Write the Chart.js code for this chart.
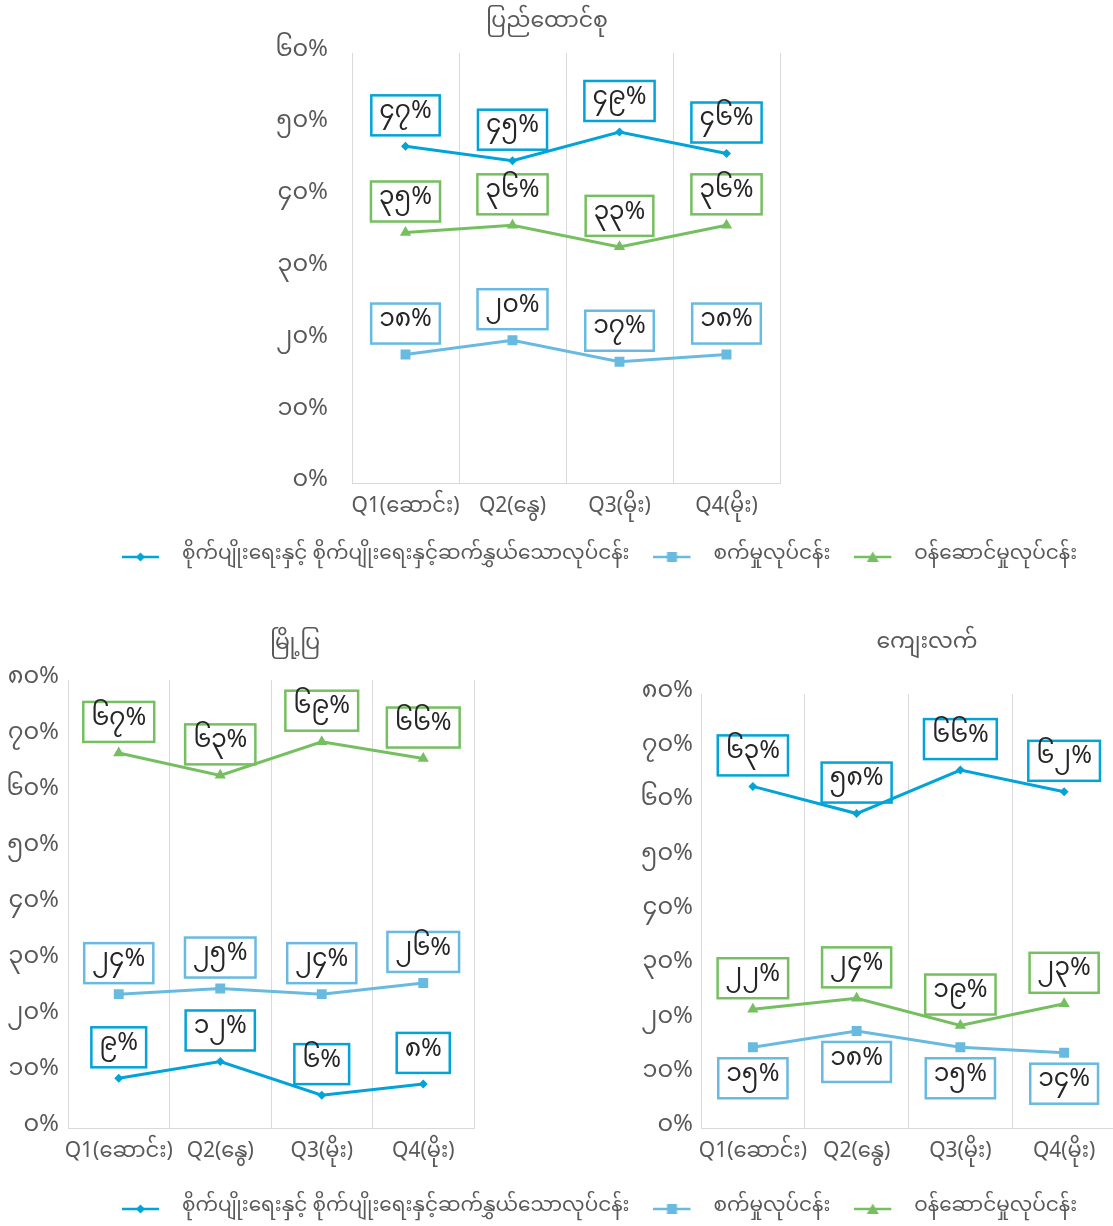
<!DOCTYPE html>
<html>
<head>
<meta charset="utf-8">
<script src="https://cdn.jsdelivr.net/npm/chart.js@4.4.0/dist/chart.umd.min.js"></script>
<style>
    html, body { margin: 0; padding: 0; background: #fff; overflow: hidden; }
    body { width: 1113px; height: 1226px; position: relative; }
    .box { position: absolute; }
</style>
</head>
<body>
<div class="box" style="left:0;top:0;width:1094px;height:538px"><canvas id="c-union"></canvas></div>
<div class="box" style="left:0;top:523px;width:1113px;height:200px"><canvas id="legend-top"></canvas></div>
<div class="box" style="left:0;top:615px;width:590px;height:568px"><canvas id="c-urban"></canvas></div>
<div class="box" style="left:630px;top:615px;width:594px;height:568px"><canvas id="c-rural"></canvas></div>
<div class="box" style="left:0;top:1175px;width:1113px;height:200px"><canvas id="legend-bottom"></canvas></div>
<script>
const quarters = ['Q1(ဆောင်း)', 'Q2(နွေ)', 'Q3(မိုး)', 'Q4(မိုး)'];
const seriesNames = ['စိုက်ပျိုးရေးနှင့် စိုက်ပျိုးရေးနှင့်ဆက်နွှယ်သောလုပ်ငန်း', 'စက်မှုလုပ်ငန်း', 'ဝန်ဆောင်မှုလုပ်ငန်း'];

// ပြည်ထောင်စု
const unionAgri = [47, 45, 49, 46];
const unionIndustry = [18, 20, 17, 18];
const unionServices = [35, 36, 33, 36];

// မြို့ပြ
const urbanAgri = [9, 12, 6, 8];
const urbanIndustry = [24, 25, 24, 26];
const urbanServices = [67, 63, 69, 66];

// ကျေးလက်
const ruralAgri = [63, 58, 66, 62];
const ruralIndustry = [15, 18, 15, 14];
const ruralServices = [22, 24, 19, 23];

const colors = ['#02a3d8', '#69bae0', '#75bf60'];
const shapes = ['rectRot', 'rect', 'triangle'];
const radii = [4.5, 7, 6.5];
const widths = [3, 3, 3];
const FONT = "'Noto Sans Myanmar', 'Myanmar Text', Padauk, 'Noto Sans', sans-serif";
const textGray = '#595959';
const gridGray = '#d9d9d9';

const mmDigits = '၀၁၂၃၄၅၆၇၈၉';
const toMM = n => String(n).replace(/\d/g, d => mmDigits[d]);

// boxed value labels above (or below) each point
const boxLabels = {
    id: 'boxLabels',
    afterDatasetsDraw(chart) {
        const ctx = chart.ctx;
        chart.data.datasets.forEach((ds, i) => {
            const meta = chart.getDatasetMeta(i);
            meta.data.forEach((pt, j) => {
                const text = toMM(ds.data[j]) + '%';
                ctx.save();
                ctx.font = '25px ' + FONT;
                const w = ctx.measureText(text).width + 16;
                const h = 40;
                const cy = ds.labelBelow ? pt.y + 31 : pt.y - 31;
                ctx.strokeStyle = ds.borderColor;
                ctx.lineWidth = 2.5;
                ctx.strokeRect(pt.x - w / 2, cy - h / 2, w, h);
                ctx.fillStyle = '#262626';
                ctx.textAlign = 'center';
                ctx.textBaseline = 'middle';
                ctx.fillText(text, pt.x, cy);
                ctx.restore();
            });
        });
    }
};

function makeDatasets(values, belowFlags) {
    return values.map((v, i) => ({
        label: seriesNames[i],
        data: v,
        borderColor: colors[i],
        backgroundColor: colors[i],
        borderWidth: widths[i],
        pointStyle: shapes[i],
        pointRadius: radii[i],
        pointBorderWidth: 0,
        tension: 0,
        labelBelow: belowFlags ? belowFlags[i] : false
    }));
}

function panel(id, title, values, opt) {
    return new Chart(document.getElementById(id), {
        type: 'line',
        data: { labels: quarters, datasets: makeDatasets(values, opt.below) },
        options: {
            responsive: true,
            maintainAspectRatio: false,
            animation: false,
            layout: { padding: { bottom: 3 } },
            scales: {
                x: {
                    offset: true,
                    grid: { offset: true, color: gridGray, drawTicks: false },
                    border: { color: gridGray },
                    ticks: {
                        color: textGray,
                        font: { family: FONT, size: 21 },
                        padding: 13,
                        autoSkip: false,
                        maxRotation: 0,
                        minRotation: 0
                    }
                },
                y: {
                    min: 0,
                    max: opt.max,
                    grid: { display: false },
                    border: { color: gridGray },
                    ticks: {
                        stepSize: 10,
                        color: textGray,
                        font: { family: FONT, size: 24 },
                        padding: opt.tickPad,
                        callback: v => toMM(v) + '%'
                    },
                    afterFit: s => { s.width = opt.left; }
                },
                y2: {
                    position: 'right',
                    grid: { display: false },
                    border: { display: false },
                    ticks: { display: false },
                    afterFit: s => { s.width = opt.right; }
                }
            },
            plugins: {
                legend: { display: false },
                tooltip: { enabled: false },
                title: {
                    display: true,
                    text: title,
                    color: textGray,
                    font: { family: FONT, size: 22, weight: 'normal', lineHeight: 1.2 },
                    padding: { top: opt.titleTop, bottom: opt.titleBottom }
                }
            }
        },
        plugins: [boxLabels]
    });
}

function legendIcon(color, shape) {
    const c = document.createElement('canvas');
    c.width = 50;
    c.height = 14;
    const g = c.getContext('2d');
    g.strokeStyle = color;
    g.fillStyle = color;
    g.lineWidth = 2.5;
    g.beginPath();
    g.moveTo(0, 7);
    g.lineTo(37, 7);
    g.stroke();
    g.beginPath();
    if (shape === 'rectRot') {
        g.moveTo(18.5, 2.5); g.lineTo(23, 7); g.lineTo(18.5, 11.5); g.lineTo(14, 7);
    } else if (shape === 'rect') {
        g.rect(13.5, 2, 10, 10);
    } else {
        g.moveTo(18.5, 1.5); g.lineTo(24.5, 12); g.lineTo(12.5, 12);
    }
    g.closePath();
    g.fill();
    return c;
}

const icons = colors.map((c, i) => legendIcon(c, shapes[i]));

function legendChart(id) {
    return new Chart(document.getElementById(id), {
        type: 'line',
        data: { labels: [], datasets: makeDatasets([[], [], []]) },
        options: {
            responsive: true,
            maintainAspectRatio: false,
            animation: false,
            layout: { padding: { left: 86 } },
            scales: { x: { display: false }, y: { display: false } },
            plugins: {
                tooltip: { enabled: false },
                legend: {
                    position: 'top',
                    onClick: null,
                    labels: {
                        usePointStyle: true,
                        pointStyleWidth: 50,
                        padding: 24,
                        color: textGray,
                        font: { family: FONT, size: 20 },
                        generateLabels: chart => Chart.defaults.plugins.legend.labels.generateLabels(chart)
                            .map((item, i) => Object.assign(item, { pointStyle: icons[i] }))
                    }
                }
            }
        }
    });
}

panel('c-union', 'ပြည်ထောင်စု', [unionAgri, unionIndustry, unionServices],
    { max: 60, left: 352, right: 314, tickPad: 16, titleTop: 11, titleBottom: 15.6 });
panel('c-urban', 'မြို့ပြ', [urbanAgri, urbanIndustry, urbanServices],
    { max: 80, left: 68, right: 116, tickPad: 1, titleTop: 18, titleBottom: 20.6 });
panel('c-rural', 'ကျေးလက်', [ruralAgri, ruralIndustry, ruralServices],
    { max: 80, left: 71, right: 108, tickPad: 0, titleTop: 17, titleBottom: 35.6, below: [false, true, false] });
legendChart('legend-top');
legendChart('legend-bottom');
</script>
</body>
</html>
